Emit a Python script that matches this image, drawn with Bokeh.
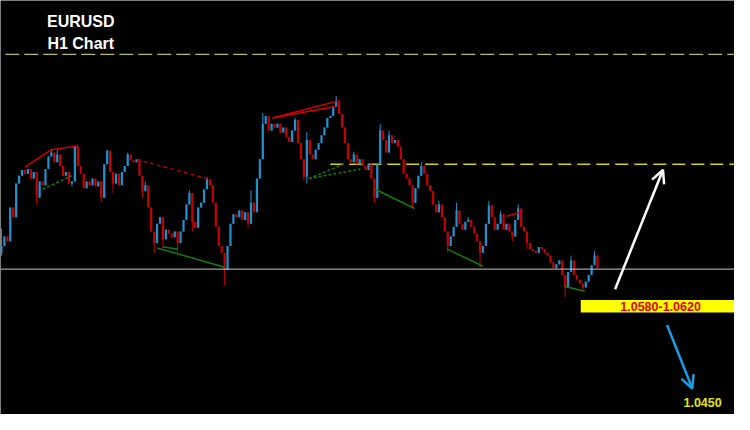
from bokeh.plotting import figure
from bokeh.models import Range1d, Span, Arrow, OpenHead, ColumnDataSource
from bokeh.core.properties import value
from bokeh.embed import file_html
from bokeh.resources import INLINE

# ---------------- data (EURUSD H1) ----------------
first_open = 1.0568
closes = [
    1.0575, 1.0585, 1.0580, 1.0615, 1.0605, 1.0640, 1.0648, 1.0654, 1.0650, 1.0655,
    1.0645, 1.0652, 1.0625, 1.0642, 1.0638, 1.0655, 1.0668, 1.0672, 1.0662, 1.0670,
    1.0658, 1.0648, 1.0652, 1.0640, 1.0642, 1.0678, 1.0658, 1.0650, 1.0635, 1.0642,
    1.0638, 1.0645, 1.0637, 1.0642, 1.0625, 1.0660, 1.0674, 1.0652, 1.0640, 1.0650,
    1.0638, 1.0652, 1.0658, 1.0670, 1.0664, 1.0662, 1.0665, 1.0648, 1.0632, 1.0638,
    1.0615, 1.0590, 1.0578, 1.0598, 1.0605, 1.0582, 1.0592, 1.0588, 1.0584, 1.0590,
    1.0578, 1.0590, 1.0602, 1.0618, 1.0630, 1.0600, 1.0594, 1.0615, 1.0620, 1.0634,
    1.0644, 1.0638, 1.0620, 1.0595, 1.0575, 1.0568, 1.0550, 1.0575, 1.0598, 1.0608,
    1.0605, 1.0612, 1.0602, 1.0610, 1.0598, 1.0620, 1.0610, 1.0645, 1.0665, 1.0702,
    1.0710, 1.0695, 1.0702, 1.0698, 1.0702, 1.0693, 1.0698, 1.0688, 1.0683, 1.0695,
    1.0706, 1.0682, 1.0665, 1.0647, 1.0685, 1.0670, 1.0665, 1.0675, 1.0682, 1.0690,
    1.0698, 1.0708, 1.0710, 1.0720, 1.0725, 1.0712, 1.0698, 1.0682, 1.0665, 1.0662,
    1.0670, 1.0660, 1.0665, 1.0658, 1.0654, 1.0660, 1.0645, 1.0625, 1.0660, 1.0695,
    1.0685, 1.0672, 1.0690, 1.0682, 1.0685, 1.0678, 1.0665, 1.0650, 1.0645, 1.0638,
    1.0620, 1.0635, 1.0648, 1.0658, 1.0650, 1.0638, 1.0632, 1.0618, 1.0610, 1.0618,
    1.0605, 1.0590, 1.0575, 1.0585, 1.0595, 1.0612, 1.0598, 1.0592, 1.0600, 1.0602,
    1.0595, 1.0588, 1.0580, 1.0568, 1.0575, 1.0598, 1.0617, 1.0605, 1.0592, 1.0598,
    1.0608, 1.0592, 1.0598, 1.0590, 1.0585, 1.0602, 1.0614, 1.0595, 1.0590, 1.0578,
    1.0572, 1.0570, 1.0568, 1.0574, 1.0572, 1.0568, 1.0565, 1.0558, 1.0552, 1.0556,
    1.0560, 1.0545, 1.0532, 1.0548, 1.0560, 1.0545, 1.0540, 1.0536, 1.0532, 1.0538,
    1.0545, 1.0555, 1.0565, 1.0552,
]
# wick extremes that stand out beyond the bodies (bar index -> price)
high_marks = {0: 1.0593, 17: 1.0676, 19: 1.0675, 26: 1.0679, 36: 1.0675, 43: 1.0672,
              49: 1.0642, 64: 1.0633, 70: 1.0647, 85: 1.0633, 89: 1.0713, 100: 1.0708,
              104: 1.0693, 114: 1.0731, 120: 1.0673, 129: 1.0702, 132: 1.0695,
              143: 1.0662, 149: 1.0622, 155: 1.0620, 159: 1.0605, 166: 1.0622,
              170: 1.0611, 176: 1.0618, 194: 1.0565, 202: 1.0570}
low_marks = {0: 1.0565, 12: 1.0618, 24: 1.0637, 34: 1.0620, 38: 1.0630, 48: 1.0625,
             52: 1.0568, 55: 1.0573, 60: 1.0567, 65: 1.0590, 76: 1.0534, 84: 1.0594,
             103: 1.0643, 104: 1.0640, 127: 1.0620, 140: 1.0615, 152: 1.0568,
             163: 1.0553, 174: 1.0580, 179: 1.0572, 192: 1.0522, 198: 1.0528}

# horizontal levels
upper_level = 1.0774
mid_level = 1.0660
mid_level_start = 112
support_level = 1.0551
band_low, band_high = 1.0506, 1.0519
band_start = 197.3
band_label = "1.0580-1.0620"
target_label = "1.0450"
title_lines = ["EURUSD", "H1 Chart"]

# trend lines drawn by the analyst: (x0, y0, x1, y1, colour, dash)
trend_lines = [
    (8, 1.0657, 17, 1.0675, "#d40000", "solid"),
    (17, 1.0675, 26, 1.0679, "#d40000", "solid"),
    (14, 1.0634, 24, 1.0648, "#127a12", "3 2"),
    (46, 1.0665, 70, 1.0645, "#b00000", "4 3"),
    (53, 1.0573, 76, 1.0553, "#127a12", "solid"),
    (55, 1.0574, 60, 1.0572, "#127a12", "solid"),
    (92.3, 1.0708, 115, 1.0726, "#d40000", "solid"),
    (92.3, 1.0708, 113.7, 1.0720, "#d40000", "solid"),
    (104.7, 1.0645, 117.3, 1.0661, "#127a12", "3 2"),
    (104.7, 1.0645, 122.3, 1.0655, "#127a12", "3 2"),
    (127.3, 1.0634, 140.7, 1.0614, "#127a12", "solid"),
    (151.7, 1.0572, 164, 1.0554, "#127a12", "solid"),
    (172, 1.0606, 177, 1.0610, "#d40000", "solid"),
    (192, 1.0533, 198.7, 1.0528, "#127a12", "solid"),
]
# projected moves
up_arrow = (209, 1.0530, 225.3, 1.0654)
down_arrow = (226.7, 1.0493, 235.3, 1.0427)

# ---------------- build ----------------
idx = list(range(len(closes)))
opens = [first_open] + closes[:-1]
tops = [max(o, c) for o, c in zip(opens, closes)]
bots = [min(o, c) for o, c in zip(opens, closes)]
highs = [high_marks.get(i, t) for i, t in zip(idx, tops)]
lows = [low_marks.get(i, b) for i, b in zip(idx, bots)]
BLUE, RED = "#1f93cf", "#c80000"
colors = [BLUE if c >= o else RED for o, c in zip(opens, closes)]

src = ColumnDataSource(dict(x=idx, top=tops, bottom=bots, high=highs, low=lows, color=colors))

p = figure(width=734, height=414, output_backend="svg", toolbar_location=None,
           x_range=Range1d(-0.33, 249.67), y_range=Range1d(1.0400, 1.0830),
           background_fill_color="black", border_fill_color="black", min_border=0)
p.outline_line_color = None
p.xaxis.visible = False
p.yaxis.visible = False
p.xgrid.visible = False
p.ygrid.visible = False

# levels
p.segment(x0=[1.3], y0=[upper_level], x1=[260], y1=[upper_level],
          line_color="#b8b860", line_width=1.2, line_dash="14 5")
p.add_layout(Span(location=support_level, dimension="width", line_color="#c8c8c8", line_width=1))
p.segment(x0=[mid_level_start], y0=[mid_level], x1=[260], y1=[mid_level],
          line_color="#d4d400", line_width=1.5, line_dash="13 6")

# bars
p.segment(x0="x", y0="low", x1="x", y1="high", color="color", line_width=1, source=src)
p.vbar(x="x", top="top", bottom="bottom", width=0.75, fill_color="color",
       line_color=None, source=src)

# trend lines
for x0, y0, x1, y1, col, dash in trend_lines:
    p.segment(x0=[x0], y0=[y0], x1=[x1], y1=[y1], line_color=col, line_width=1.5, line_dash=dash)

# band with range label
p.quad(left=[band_start], right=[260], bottom=[band_low], top=[band_high],
       fill_color="#ffff00", line_color=None)
p.text(x=[224.5], y=[(band_low + band_high) / 2], text=[band_label], text_color="#e00000",
       text_font=value("Liberation Sans"), text_font_style="bold", text_font_size="12.5px",
       text_align="center", text_baseline="middle")
p.text(x=[238.8], y=[1.0412], text=[target_label], text_color="#e6e600",
       text_font=value("Liberation Sans"), text_font_style="bold", text_font_size="12.5px",
       text_align="center", text_baseline="middle")

# title
p.text(x=[27, 27], y=[1.0808, 1.0785], text=title_lines, text_color="white",
       text_font=value("Liberation Sans"), text_font_style="bold", text_font_size="16px",
       text_align="center", text_baseline="middle")

# arrows
ux0, uy0, ux1, uy1 = up_arrow
p.add_layout(Arrow(end=OpenHead(size=13, line_color="white", line_width=2.5),
                   x_start=ux0, y_start=uy0, x_end=ux1, y_end=uy1,
                   line_color="white", line_width=2.5))
dx0, dy0, dx1, dy1 = down_arrow
p.add_layout(Arrow(end=OpenHead(size=13, line_color="#1e9be0", line_width=2.5),
                   x_start=dx0, y_start=dy0, x_end=dx1, y_end=dy1,
                   line_color="#1e9be0", line_width=2.5))

html = file_html(p, INLINE).replace("<body>", '<body style="background:#000000">', 1)
open("out.html", "w").write(html)
